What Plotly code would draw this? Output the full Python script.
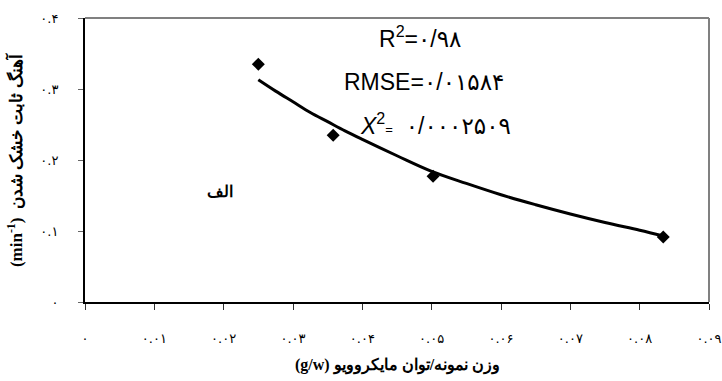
import plotly.graph_objects as go

# Measured points
point_x = [0.025, 0.0358, 0.0502, 0.0834]
point_y = [0.335, 0.235, 0.177, 0.0915]

# Fitted curve
curve_x = [0.025, 0.0275, 0.030, 0.0325, 0.035, 0.0375, 0.040, 0.045, 0.050,
           0.055, 0.060, 0.065, 0.070, 0.075, 0.080, 0.0834]
curve_y = [0.313, 0.297, 0.282, 0.267, 0.254, 0.241, 0.229, 0.206, 0.184,
           0.167, 0.151, 0.137, 0.124, 0.112, 0.101, 0.093]

x_tickvals = [0, 0.01, 0.02, 0.03, 0.04, 0.05, 0.06, 0.07, 0.08, 0.09]
x_ticktext = ["۰", "۰.۰۱", "۰.۰۲", "۰.۰۳", "۰.۰۴", "۰.۰۵", "۰.۰۶", "۰.۰۷", "۰.۰۸", "۰.۰۹"]
y_tickvals = [0, 0.1, 0.2, 0.3, 0.4]
y_ticktext = ["۰", "۰.۱", "۰.۲", "۰.۳", "۰.۴"]

x_title = "<b>(g/w) وزن نمونه/توان مایکروویو</b>"
y_title = "<b>(min<sup>-1</sup>)  آهنگ ثابت خشک شدن</b>"

stats_text = [
    "R<sup>2</sup>=۰/۹۸",
    "RMSE=۰/۰۱۵۸۴",
    "<i>X</i><sup>2</sup><span style='font-size:13px'>=</span>  ۰/۰۰۰۲۵۰۹",
]
stats_x = [0.0483, 0.0489, 0.0505]
stats_y = [0.373, 0.310, 0.251]
panel_label = "الف"

SERIF = "Liberation Serif, Times New Roman, DejaVu Serif, serif"
SANS = "Liberation Sans, Arial, DejaVu Sans, sans-serif"
TICK = "DejaVu Sans, sans-serif"

fig = go.Figure()
fig.add_trace(go.Scatter(x=curve_x, y=curve_y, mode="lines",
                         line=dict(color="black", width=3, shape="spline"),
                         showlegend=False, hoverinfo="skip"))
fig.add_trace(go.Scatter(x=point_x, y=point_y, mode="markers",
                         marker=dict(symbol="diamond", size=10, color="black"),
                         showlegend=False))

for t, xx, yy in zip(stats_text, stats_x, stats_y):
    fig.add_annotation(x=xx, y=yy, text=t, showarrow=False, xanchor="center",
                       yanchor="middle", font=dict(family=SANS, size=23, color="black"))

fig.add_annotation(x=0.0195, y=0.155, text="<b>" + panel_label + "</b>", showarrow=False,
                   font=dict(family=SERIF, size=16, color="black"))

# axis titles as annotations
fig.add_annotation(xref="paper", yref="paper", x=0.5, y=-0.222, text=x_title,
                   showarrow=False, xanchor="center", yanchor="middle",
                   font=dict(family=SERIF, size=16, color="black"))
fig.add_annotation(xref="paper", yref="paper", x=-0.112, y=0.5, text=y_title,
                   showarrow=False, xanchor="center", yanchor="middle", textangle=-90,
                   font=dict(family=SERIF, size=17, color="black"))

# gray frame on top/right
fig.add_shape(type="line", xref="paper", yref="paper", x0=0, x1=1, y0=1, y1=1,
              line=dict(color="#808080", width=2))
fig.add_shape(type="line", xref="paper", yref="paper", x0=1, x1=1, y0=0, y1=1,
              line=dict(color="#808080", width=2))

fig.update_xaxes(range=[0, 0.09], tickvals=x_tickvals, ticktext=x_ticktext,
                 showgrid=False, zeroline=False, showline=True, linecolor="black",
                 linewidth=2, ticks="outside", ticklen=6, tickcolor="#333",
                 ticklabelstandoff=17, automargin=False,
                 tickfont=dict(family=TICK, size=13, color="black"))
fig.update_yaxes(range=[0, 0.4], tickvals=y_tickvals, ticktext=y_ticktext,
                 showgrid=False, zeroline=False, showline=True, linecolor="black",
                 linewidth=2, ticks="outside", ticklen=5, tickcolor="#666",
                 ticklabelstandoff=17, automargin=False,
                 tickfont=dict(family=TICK, size=13, color="black"))

fig.update_layout(width=722, height=381, margin=dict(l=85, r=13, t=18, b=79),
                  plot_bgcolor="white", paper_bgcolor="white")

fig.write_html("out.html", config={"displayModeBar": False},
               post_script="document.body.style.margin='0px';document.body.style.padding='0px';")
